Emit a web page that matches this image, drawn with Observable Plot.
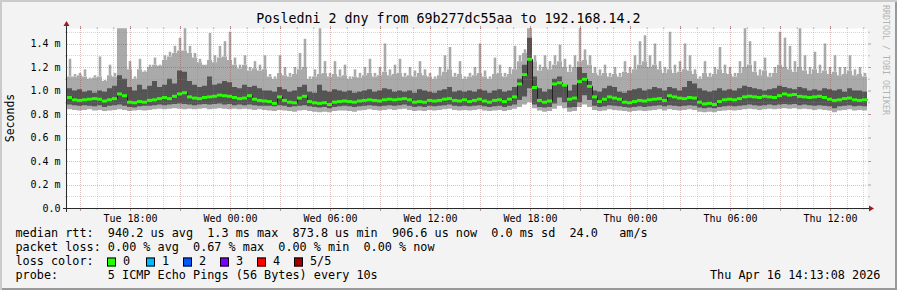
<!DOCTYPE html>
<html><head><meta charset="utf-8">
<script src="https://cdn.jsdelivr.net/npm/d3@7"></script>
<script src="https://cdn.jsdelivr.net/npm/@observablehq/plot@0.6"></script>
<style>
html,body{margin:0;padding:0;background:#fff}
#chart{position:relative;width:897px;height:290px;background:#f3f3f3;box-shadow:inset 2px 2px 0 #cbcbcb, inset -2px -2px 0 #999;font-family:"DejaVu Sans Mono",monospace;color:#000;overflow:hidden}
#chart svg{position:absolute;left:0;top:0}
.t{position:absolute;white-space:pre;font-size:11.8px;line-height:1;transform:translateY(-50%)}
.title{position:absolute;left:0;width:897px;text-align:center;top:18.5px;font-size:13.3px;line-height:1;transform:translateY(-50%);white-space:pre}
.box{position:absolute;width:9px;height:9px;box-sizing:border-box;border:1px solid #000;transform:translateY(-50%)}
.ylab{position:absolute;left:10.5px;top:117.5px;font-size:11.5px;line-height:1;white-space:pre;transform:translate(-50%,-50%) rotate(-90deg)}
.wm{position:absolute;left:882px;top:5px;font-size:8.3px;line-height:1;writing-mode:vertical-rl;color:#b4b4b4;white-space:pre}
</style>
</head><body>
<div id="chart"></div>
<script>
// ---- data (values in milliseconds, one value per 18-minute column, 48 h) ----
// top of the dense light-grey smoke
const baseV = [
1.12,1.12,1.13,1.12,1.10,1.11,1.12,1.08,1.13,1.12,1.53,1.53,1.18,1.10,1.18,1.16,1.20,1.22,1.21,1.26,1.29,1.32,1.34,1.34,1.32,1.28,1.24,1.22,1.26,1.24,1.28,1.29,1.26,1.22,1.19,1.22,1.17,1.19,1.17,1.18,
1.12,1.10,1.15,1.13,1.12,1.14,1.18,1.20,1.10,1.12,1.14,1.15,1.12,1.14,1.12,1.13,1.10,1.12,1.11,1.13,1.15,1.12,1.13,1.16,1.13,1.14,1.15,1.12,1.13,1.12,1.15,1.13,1.12,1.10,1.13,1.16,1.18,1.12,1.14,1.10,
1.12,1.13,1.15,1.12,1.10,1.14,1.15,1.12,1.14,1.18,1.25,1.32,1.53,1.25,1.17,1.20,1.18,1.22,1.25,1.20,1.16,1.20,1.25,1.26,1.22,1.15,1.13,1.15,1.12,1.14,1.12,1.16,1.15,1.18,1.22,1.25,1.20,1.22,1.18,1.15,
1.18,1.15,1.16,1.18,1.17,1.14,1.10,1.15,1.12,1.14,1.18,1.15,1.14,1.12,1.15,1.20,1.22,1.16,1.13,1.17,1.12,1.15,1.22,1.20,1.18,1.16,1.20,1.17,1.14,1.18,1.15,1.17,1.14,1.16,1.13,1.14,1.17,1.13,1.14,1.12];
// highest single ping in the column (thin spikes)
const peakV = [
1.27,1.14,1.15,1.18,1.11,1.13,1.29,1.09,1.22,1.15,1.53,1.53,1.25,1.12,1.27,1.17,1.22,1.28,1.22,1.30,1.33,1.38,1.45,1.53,1.38,1.32,1.27,1.22,1.49,1.30,1.38,1.42,1.50,1.28,1.22,1.30,1.20,1.25,1.22,1.30,
1.14,1.12,1.30,1.20,1.15,1.20,1.32,1.44,1.12,1.18,1.53,1.25,1.15,1.25,1.18,1.22,1.12,1.18,1.15,1.20,1.27,1.15,1.20,1.40,1.18,1.22,1.27,1.15,1.20,1.17,1.25,1.18,1.15,1.12,1.20,1.30,1.37,1.15,1.25,1.12,
1.15,1.20,1.40,1.17,1.12,1.28,1.22,1.15,1.20,1.38,1.30,1.35,1.53,1.30,1.22,1.30,1.25,1.30,1.39,1.27,1.22,1.30,1.53,1.35,1.30,1.20,1.18,1.22,1.15,1.20,1.15,1.25,1.20,1.30,1.42,1.47,1.30,1.40,1.25,1.20,
1.50,1.22,1.25,1.40,1.30,1.18,1.12,1.25,1.15,1.20,1.37,1.22,1.20,1.15,1.25,1.53,1.42,1.25,1.18,1.28,1.15,1.20,1.50,1.45,1.38,1.25,1.53,1.30,1.20,1.33,1.22,1.40,1.20,1.30,1.20,1.20,1.30,1.18,1.20,1.15];
const hiV = [
1.02,1.00,1.01,0.99,1.00,0.98,1.00,0.99,1.02,1.04,1.13,1.10,1.03,1.00,1.05,1.01,1.04,1.08,1.03,1.05,1.10,1.06,1.17,1.16,1.08,1.05,1.03,1.04,1.12,1.05,1.06,1.08,1.07,1.03,1.02,1.05,1.03,1.04,1.02,1.00,
1.00,0.99,1.03,1.01,0.99,1.00,1.03,1.05,0.99,0.98,1.05,1.00,0.99,1.01,1.00,0.99,1.00,0.98,0.99,1.00,1.01,0.99,1.00,1.02,1.01,0.99,1.00,0.99,1.00,0.98,1.01,1.00,0.99,0.98,1.00,1.01,1.03,0.99,1.00,0.99,
1.00,0.99,1.01,1.00,0.98,1.00,1.01,0.99,1.00,1.03,1.10,1.22,1.45,1.12,1.02,0.99,1.01,1.10,1.12,1.05,1.00,1.05,1.20,1.15,1.08,1.00,0.99,1.02,1.04,1.03,0.99,0.98,1.00,1.01,1.02,1.00,1.01,1.03,1.02,1.00,
1.03,1.02,1.00,1.03,1.08,1.06,1.02,1.00,0.99,1.00,1.02,1.00,1.01,1.00,1.02,1.04,1.03,1.02,1.01,1.00,1.01,1.02,1.04,1.03,1.02,1.01,1.03,1.02,1.00,1.01,1.00,1.02,1.01,1.00,1.01,0.99,1.02,1.00,1.00,0.99];
const medV = [
0.945,0.925,0.92,0.925,0.93,0.935,0.93,0.915,0.925,0.935,0.975,0.96,0.905,0.90,0.91,0.905,0.92,0.925,0.935,0.945,0.935,0.955,0.975,0.985,0.95,0.94,0.935,0.945,0.95,0.955,0.965,0.96,0.955,0.945,0.935,0.94,0.96,0.93,0.92,0.915,
0.91,0.895,0.95,0.92,0.905,0.90,0.94,0.955,0.91,0.90,0.895,0.90,0.885,0.905,0.91,0.915,0.91,0.905,0.915,0.92,0.925,0.92,0.915,0.925,0.93,0.925,0.93,0.935,0.925,0.905,0.91,0.905,0.92,0.915,0.92,0.93,0.935,0.92,0.915,0.925,
0.91,0.92,0.93,0.915,0.905,0.92,0.925,0.91,0.93,0.95,1.06,1.14,1.27,1.03,0.92,0.905,0.915,1.06,1.07,1.05,0.93,0.94,1.08,1.10,1.04,0.95,0.91,0.93,0.95,0.94,0.93,0.905,0.90,0.91,0.92,0.915,0.925,0.93,0.935,0.92,
0.96,0.95,0.94,0.935,0.945,0.94,0.905,0.89,0.895,0.885,0.91,0.925,0.93,0.925,0.935,0.95,0.955,0.95,0.945,0.955,0.95,0.945,0.96,0.975,0.965,0.97,0.955,0.95,0.945,0.95,0.955,0.945,0.93,0.92,0.925,0.935,0.94,0.925,0.92,0.925];
const loV = [
0.88,0.875,0.87,0.875,0.87,0.865,0.875,0.86,0.87,0.875,0.88,0.87,0.86,0.855,0.865,0.87,0.87,0.875,0.88,0.875,0.88,0.885,0.89,0.885,0.88,0.875,0.88,0.885,0.88,0.885,0.89,0.88,0.885,0.875,0.88,0.875,0.88,0.875,0.87,0.87,
0.87,0.865,0.875,0.87,0.86,0.865,0.87,0.875,0.865,0.86,0.855,0.86,0.85,0.86,0.865,0.87,0.865,0.86,0.865,0.87,0.875,0.87,0.865,0.87,0.875,0.87,0.875,0.88,0.87,0.86,0.865,0.86,0.87,0.865,0.87,0.875,0.88,0.87,0.865,0.87,
0.865,0.87,0.875,0.865,0.86,0.865,0.87,0.86,0.87,0.88,0.92,0.95,1.02,0.88,0.86,0.855,0.86,0.89,0.94,0.90,0.855,0.86,0.90,0.96,0.92,0.87,0.86,0.865,0.875,0.87,0.865,0.86,0.855,0.86,0.865,0.86,0.865,0.87,0.875,0.865,
0.875,0.87,0.865,0.87,0.875,0.87,0.855,0.85,0.855,0.85,0.86,0.865,0.87,0.865,0.87,0.875,0.88,0.875,0.87,0.875,0.88,0.875,0.88,0.885,0.88,0.885,0.875,0.88,0.875,0.87,0.875,0.87,0.865,0.85,0.865,0.87,0.875,0.865,0.87,0.865];
const minV = [
0.84,0.835,0.83,0.835,0.84,0.83,0.835,0.825,0.83,0.835,0.84,0.835,0.825,0.83,0.835,0.83,0.835,0.84,0.845,0.84,0.845,0.85,0.845,0.84,0.845,0.84,0.845,0.85,0.84,0.845,0.85,0.845,0.84,0.845,0.84,0.845,0.84,0.835,0.84,0.835,
0.83,0.825,0.835,0.83,0.825,0.82,0.83,0.835,0.825,0.82,0.815,0.82,0.815,0.825,0.83,0.83,0.825,0.82,0.83,0.835,0.84,0.835,0.83,0.835,0.84,0.835,0.84,0.845,0.835,0.825,0.83,0.825,0.835,0.83,0.835,0.84,0.845,0.835,0.83,0.835,
0.83,0.835,0.84,0.83,0.825,0.83,0.835,0.825,0.835,0.845,0.86,0.88,0.90,0.85,0.83,0.82,0.825,0.845,0.87,0.85,0.82,0.825,0.86,0.88,0.86,0.835,0.825,0.83,0.84,0.835,0.83,0.825,0.82,0.825,0.83,0.825,0.83,0.835,0.84,0.83,
0.84,0.835,0.83,0.835,0.84,0.835,0.82,0.815,0.82,0.815,0.825,0.83,0.835,0.83,0.835,0.84,0.845,0.84,0.835,0.84,0.845,0.84,0.845,0.85,0.845,0.85,0.84,0.845,0.84,0.835,0.84,0.835,0.83,0.815,0.83,0.835,0.84,0.83,0.835,0.83];

const yTicks = [0, 0.2, 0.4, 0.6, 0.8, 1.0, 1.2, 1.4];
const yMinorTicks = [0.1, 0.3, 0.5, 0.7, 0.9, 1.1, 1.3, 1.5];
const titleText = "Posledni 2 dny from 69b277dc55aa to 192.168.14.2";
const yLabel = "Seconds";
const medianLabel = "median rtt:";
const medianStats = ["940.2 us avg", "1.3 ms max", "873.8 us min", "906.6 us now", "0.0 ms sd", "24.0", "am/s"];
const lossLabel = "packet loss:";
const lossStats = ["0.00 % avg", "0.67 % max", "0.00 % min", "0.00 % now"];
const lossColorLabel = "loss color:";
const lossNames = ["0", "1", "2", "3", "4", "5/5"];
const lossColors = ["#26ff00", "#00b8ff", "#0059ff", "#7e00ff", "#ff0000", "#a00000"];
const probeLabel = "probe:";
const probeText = "5 ICMP Echo Pings (56 Bytes) every 10s";
const stampText = "Thu Apr 16 14:13:08 2026";
const watermark = "RRDTOOL / TOBI OETIKER";

// ---- layout ----
const boxX = [107, 146, 183, 220, 257, 294];
const rowY = [234, 248, 262, 276];

const start = new Date(Date.UTC(2026, 3, 14, 14, 13, 8));
const end = new Date(Date.UTC(2026, 3, 16, 14, 13, 8));
const step = (end - start) / baseV.length;
const cols = baseV.map((b, i) => ({
  t0: new Date(+start + i * step), t1: new Date(+start + (i + 1) * step),
  tc: new Date(+start + (i + 0.5) * step),
  base: b, peak: Math.max(b, peakV[i]), hi: hiV[i], med: medV[i], lo: loV[i], min: minV[i]
}));
const rows = cols.map(c => ({t: c.t0, ...c}));
rows.push({...cols[cols.length - 1], t: end});

const hours = d3.utcHour.every(1).range(start, end);
const major = hours.filter(d => d.getUTCHours() % 3 === 0);
const minor = hours.filter(d => d.getUTCHours() % 3 !== 0);
const labelHours = hours.filter(d => d.getUTCHours() % 6 === 0);
const fmtY = v => v === 0 ? "0.0" : v.toFixed(1) + " m";

const gridGrey = "#8c8c8c", gridRed = "#821e1e";
const noText = () => "";
const light = "#aaaaaa", dark = "#555555";

const plot = Plot.plot({
  width: 897, height: 228,
  marginLeft: 67, marginRight: 30, marginTop: 28, marginBottom: 20,
  style: {background: "transparent", fontFamily: "DejaVu Sans Mono", fontSize: "10px", color: "#000", overflow: "visible"},
  x: {type: "utc", domain: [start, end], label: null},
  y: {domain: [0, 1.532], label: null},
  marks: [
    Plot.frame({fill: "white", stroke: "none"}),
    Plot.areaY(rows, {x: "t", y1: "min", y2: "base", curve: "step-after", fill: light}),
    Plot.ruleX(cols, {x: "tc", y1: "base", y2: "peak", stroke: light, strokeWidth: 2.6}),
    Plot.areaY(rows, {x: "t", y1: "lo", y2: "hi", curve: "step-after", fill: dark}),
    Plot.ruleX(minor, {stroke: gridGrey, strokeOpacity: 0.35, strokeDasharray: "1,1", shapeRendering: "crispEdges"}),
    Plot.ruleY(yMinorTicks, {stroke: gridGrey, strokeOpacity: 0.35, strokeDasharray: "1,1", shapeRendering: "crispEdges"}),
    Plot.ruleX(major, {stroke: gridRed, strokeOpacity: 0.28, strokeDasharray: "1,1", shapeRendering: "crispEdges"}),
    Plot.ruleY(yTicks.slice(1), {stroke: gridRed, strokeOpacity: 0.28, strokeDasharray: "1,1", shapeRendering: "crispEdges"}),
    Plot.axisX({anchor: "top", ticks: minor, tickSize: 2, tickFormat: noText, stroke: gridGrey, strokeOpacity: 0.5, label: null}),
    Plot.axisX({anchor: "top", ticks: major, tickSize: 3, tickFormat: noText, stroke: gridRed, strokeOpacity: 0.45, label: null}),
    Plot.axisX({anchor: "bottom", ticks: minor, tickSize: 2, tickFormat: noText, stroke: gridGrey, strokeOpacity: 0.5, label: null}),
    Plot.axisX({anchor: "bottom", ticks: major, tickSize: 3, tickFormat: noText, stroke: gridRed, strokeOpacity: 0.45, label: null}),
    Plot.axisX({anchor: "bottom", ticks: labelHours, tickSize: 0, tickPadding: 6, tickFormat: d3.utcFormat("%a %H:%M"), label: null}),
    Plot.axisY({anchor: "right", ticks: yMinorTicks, tickSize: 2, tickFormat: noText, stroke: gridGrey, strokeOpacity: 0.5, label: null}),
    Plot.axisY({anchor: "right", ticks: yTicks, tickSize: 3, tickFormat: noText, stroke: gridRed, strokeOpacity: 0.45, label: null}),
    Plot.axisY({anchor: "left", ticks: yMinorTicks, tickSize: 2, tickFormat: noText, stroke: gridGrey, strokeOpacity: 0.5, label: null}),
    Plot.axisY({anchor: "left", ticks: yTicks, tickSize: 0, tickPadding: 7, tickFormat: fmtY, label: null}),
    Plot.line(rows, {x: "t", y: "med", curve: "step-after", stroke: "#202020", strokeWidth: 1}),
    Plot.ruleY(cols, {y: "med", x1: "t0", x2: "t1", stroke: lossColors[0], strokeWidth: 3})
  ]
});

const chart = document.getElementById("chart");
chart.appendChild(plot);

// axis lines and arrows (rrdtool style) positioned from Plot's scales
const xs = plot.scale("x"), ys = plot.scale("y");
const X0 = xs.range[0], X1 = xs.range[1], Y0 = ys.range[0], Y1 = ys.range[1];
const svg = d3.select(plot);
const ax = X0 - 0.5, ay = Y0 + 0.5;
svg.append("line").attr("x1", X0 - 4).attr("x2", X1 + 3).attr("y1", ay).attr("y2", ay).attr("stroke", "#2a2a2a");
svg.append("line").attr("x1", ax).attr("x2", ax).attr("y1", Y0 + 4).attr("y2", Y1 - 3).attr("stroke", "#2a2a2a");
svg.append("polygon").attr("points", `${X1 + 2},${ay - 3} ${X1 + 2},${ay + 3} ${X1 + 7},${ay}`).attr("fill", "#9c1c1c");
svg.append("polygon").attr("points", `${ax - 3},${Y1 - 2} ${ax + 3},${Y1 - 2} ${ax},${Y1 - 7}`).attr("fill", "#9c1c1c");

// title, labels, legend
function addText(cls, text, x, y) {
  const d = document.createElement("div");
  d.className = cls; d.textContent = text;
  if (x != null) d.style.left = x + "px";
  if (y != null) d.style.top = y + "px";
  chart.appendChild(d);
  return d;
}
addText("title", titleText);
addText("ylab", yLabel);
addText("wm", watermark);
const line1 = `${medianLabel}  ${medianStats.slice(0, 6).join("  ")}   ${medianStats[6]}`;
const line2 = `${lossLabel} ${lossStats.join("  ")}`;
const line4 = `${probeLabel}       ${probeText}`;
addText("t", line1, 15.5, rowY[0]);
addText("t", line2, 15.5, rowY[1]);
addText("t", lossColorLabel, 15.5, rowY[2]);
lossNames.forEach((s, i) => {
  const b = document.createElement("div");
  b.className = "box"; b.style.left = boxX[i] + "px"; b.style.top = rowY[2] + "px";
  b.style.background = lossColors[i];
  chart.appendChild(b);
  addText("t", s, boxX[i] + 16, rowY[2]);
});
addText("t", line4, 15.5, rowY[3]);
addText("t", stampText, 710, rowY[3]);
</script>
</body></html>
